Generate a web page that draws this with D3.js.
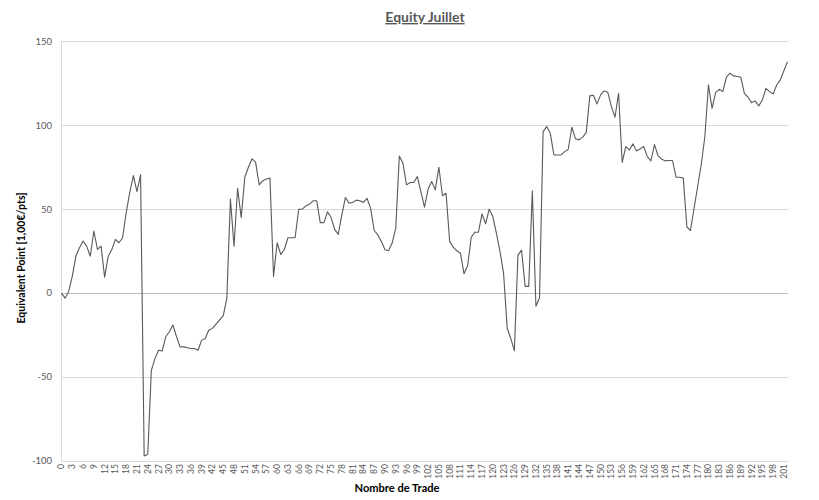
<!DOCTYPE html>
<html>
<head>
<meta charset="utf-8">
<script src="https://cdn.jsdelivr.net/npm/d3@7"></script>
<style>
  body { margin: 0; background: #fff; }
  text { font-family: Lato, "Liberation Sans", sans-serif; }
</style>
</head>
<body>
<div id="chart"></div>
<script>
// equity curve, one value per trade
const equity = [
  0, -3, 1, 10, 22, 27, 31, 28, 22, 37, 26, 28, 9.5, 22, 26, 32, 30, 33, 48, 60,
  70, 60.5, 70.5, -97, -96, -46, -39, -34, -34.5, -26, -23, -19, -26, -32, -32, -32.5, -33, -33, -34, -28,
  -27, -22, -21, -18.5, -16, -13.5, -3, 56, 28, 62.5, 45, 69, 75, 80, 78, 64.5, 67, 68, 68.5, 10,
  30, 23, 26, 33, 33, 33, 50, 50, 52, 53, 55, 55, 42, 42, 48.4, 45, 38, 35, 46.6, 57,
  53.6, 54, 55.4, 55, 54, 56.5, 50.6, 37.3, 34.7, 30.8, 25.8, 25.2, 29.8, 38.7, 81.7, 77.4, 64.5, 65.9, 65.9, 69.4,
  60.5, 51.2, 62, 66.5, 61.5, 75, 58, 59.5, 30.8, 27.4, 25.2, 23.8, 11.5, 16.3, 33.3, 36.3, 36.3, 47.2, 41.3, 50,
  45.6, 35.7, 24.8, 11.9, -20.8, -27, -34.3, 22.6, 25.6, 4, 4, 61, -7.8, -2.8, 96.2, 99.2, 95.2, 82.3, 82.3, 82.3,
  84.3, 85.7, 98.8, 91.9, 91.3, 92.9, 95.6, 117.5, 117.9, 112.7, 118.1, 120.4, 119.6, 111.1, 104.8, 119, 77.9, 87.3, 85.3, 88.9,
  84.7, 85.9, 87.3, 81.3, 78.8, 88.5, 81.7, 79.8, 78.8, 79, 79, 69, 69, 68.5, 39.5, 37.3, 50.4, 63.5, 76.6, 93,
  124, 110, 119.4, 121.4, 120, 128.6, 131, 129.4, 129, 128.6, 119, 116.7, 113.5, 114.5, 111.5, 115, 122, 120, 118.7, 124,
  127, 132.5, 137.9
];
const trades = equity.map((d, i) => i);
const yTicks = [-100, -50, 0, 50, 100, 150];
const labelStep = 3;

const width = 819, height = 500;
const svg = d3.select("#chart").append("svg")
  .attr("width", width)
  .attr("height", height);

const x = d3.scalePoint().domain(trades).range([61.5, 787.5]);
const y = d3.scaleLinear().domain([-100, 150]).range([461, 41.3]);

// gridlines
svg.append("g")
  .selectAll("line")
  .data(yTicks)
  .join("line")
  .attr("x1", 61.5).attr("x2", 788)
  .attr("y1", d => Math.round(y(d)) + 0.5)
  .attr("y2", d => Math.round(y(d)) + 0.5)
  .attr("stroke", d => d === 0 ? "#bfbfbf" : "#d9d9d9")
  .attr("stroke-width", 1);

// value axis line
svg.append("line")
  .attr("x1", 61.5).attr("x2", 61.5)
  .attr("y1", y(150)).attr("y2", y(-100))
  .attr("stroke", "#d9d9d9");

// y tick labels
svg.append("g")
  .selectAll("text")
  .data(yTicks)
  .join("text")
  .attr("x", 52)
  .attr("y", d => y(d))
  .attr("dy", "0.35em")
  .attr("text-anchor", "end")
  .attr("font-size", 9.5)
  .attr("fill", "#595959")
  .text(d => d);

// x tick labels (every 3rd trade, rotated)
svg.append("g")
  .selectAll("text")
  .data(trades.filter(d => d % labelStep === 0))
  .join("text")
  .attr("transform", d => `translate(${x(d)},464) rotate(-90)`)
  .attr("text-anchor", "end")
  .attr("dy", "0.35em")
  .attr("font-size", 8.5)
  .attr("fill", "#595959")
  .text(d => d);

// equity line
const line = d3.line()
  .x((d, i) => x(trades[i]))
  .y(d => y(d));

svg.append("path")
  .datum(equity)
  .attr("d", line)
  .attr("fill", "none")
  .attr("stroke", "#595959")
  .attr("stroke-width", 1.1)
  .attr("stroke-linejoin", "round");

// titles
svg.append("text")
  .attr("x", 425).attr("y", 22)
  .attr("text-anchor", "middle")
  .attr("font-size", 14)
  .attr("font-weight", "bold")
  .attr("fill", "#595959")
  .attr("text-decoration", "underline")
  .text("Equity Juillet");

svg.append("text")
  .attr("transform", "translate(21,258) rotate(-90)")
  .attr("text-anchor", "middle")
  .attr("dy", "0.35em")
  .attr("font-size", 12)
  .attr("font-weight", "bold")
  .attr("fill", "#000")
  .attr("textLength", 131)
  .attr("lengthAdjust", "spacingAndGlyphs")
  .text("Equivalent Point [1,00€/pts]");

svg.append("text")
  .attr("x", 397).attr("y", 492)
  .attr("text-anchor", "middle")
  .attr("font-size", 12)
  .attr("font-weight", "bold")
  .attr("fill", "#000")
  .attr("textLength", 85)
  .attr("lengthAdjust", "spacingAndGlyphs")
  .text("Nombre de Trade");
</script>
</body>
</html>
